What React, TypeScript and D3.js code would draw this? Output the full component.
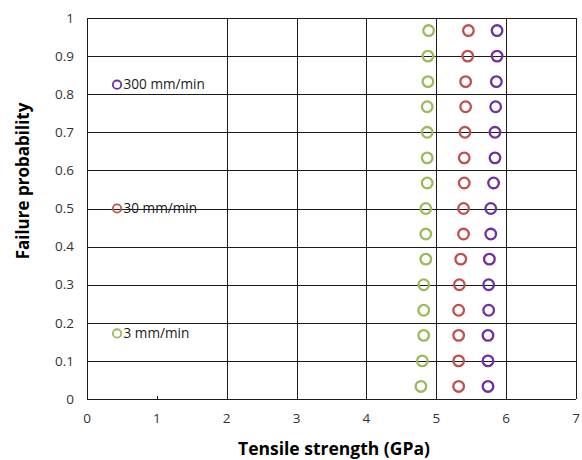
import React from "react";
import * as d3 from "d3";

const probabilities = [0.033, 0.1, 0.167, 0.233, 0.3, 0.367, 0.433, 0.5, 0.567, 0.633, 0.7, 0.767, 0.833, 0.9, 0.967];
const rate3 = [4.78, 4.8, 4.82, 4.82, 4.82, 4.85, 4.85, 4.85, 4.87, 4.87, 4.87, 4.87, 4.88, 4.88, 4.89];
const rate30 = [5.32, 5.32, 5.32, 5.32, 5.33, 5.35, 5.39, 5.39, 5.4, 5.4, 5.41, 5.42, 5.42, 5.45, 5.46];
const rate300 = [5.74, 5.74, 5.74, 5.75, 5.75, 5.76, 5.78, 5.78, 5.82, 5.84, 5.84, 5.85, 5.86, 5.87, 5.87];

const seriesNames = ["3 mm/min", "30 mm/min", "300 mm/min"];
const seriesColors = ["#9BBB59", "#C0504D", "#7030A0"];
const labelX = [0.43, 0.43, 0.43];
const labelY = [0.172, 0.5, 0.825];

const xTicks = [0, 1, 2, 3, 4, 5, 6, 7];
const xGrid = [2, 3, 4, 5, 6, 7];
const yTicks = [0, 0.1, 0.2, 0.3, 0.4, 0.5, 0.6, 0.7, 0.8, 0.9, 1];

const W = 582;
const H = 460;
const font = "'Open Sans', 'Noto Sans', sans-serif";

export default function App() {
  const x = d3.scaleLinear().domain([0, 7]).range([87, 576]);
  const y = d3.scaleLinear().domain([0, 1]).range([399, 18]);
  const series = [rate3, rate30, rate300];
  const fmt = (v: number) => (v === 0 || v === 1 ? String(v) : d3.format(".1f")(v));
  const crisp = (v: number) => Math.round(v) + 0.5;

  return (
    <svg width={W} height={H} style={{ position: "absolute", left: 0, top: 0, background: "#fff" }}>
      {/* horizontal grid */}
      {yTicks.map((t) => (
        <line key={"h" + t} x1={x(0)} x2={x(7)} y1={crisp(y(t))} y2={crisp(y(t))} stroke="#1a1a1a" strokeWidth={1} />
      ))}
      {/* vertical grid */}
      {xGrid.map((t) => (
        <line key={"v" + t} x1={crisp(x(t))} x2={crisp(x(t))} y1={y(1)} y2={y(0)} stroke="#1a1a1a" strokeWidth={1} />
      ))}
      {/* y axis line */}
      <line x1={crisp(x(0))} x2={crisp(x(0))} y1={y(1)} y2={y(0)} stroke="#1a1a1a" strokeWidth={1} />
      {/* minor tick at x=1 */}
      <line x1={crisp(x(1))} x2={crisp(x(1))} y1={y(0) - 3} y2={y(0)} stroke="#1a1a1a" strokeWidth={1} />

      {/* y tick labels */}
      {yTicks.map((t) => (
        <text key={"yl" + t} x={74} y={y(t)} dy="0.35em" textAnchor="end" fontFamily={font} fontSize={13.5} fill="#333">
          {fmt(t)}
        </text>
      ))}
      {/* x tick labels */}
      {xTicks.map((t) => (
        <text key={"xl" + t} x={x(t)} y={423} textAnchor="middle" fontFamily={font} fontSize={13.5} fill="#333">
          {t}
        </text>
      ))}

      {/* data */}
      {series.map((s, si) =>
        s.map((v, i) => (
          <circle
            key={si + "-" + i}
            cx={x(v)}
            cy={y(probabilities[i])}
            r={5.3}
            fill="none"
            stroke={seriesColors[si]}
            strokeWidth={2.3}
          />
        ))
      )}

      {/* labels */}
      {seriesNames.map((n, i) => (
        <g key={n}>
          <circle cx={x(labelX[i])} cy={y(labelY[i])} r={4.2} fill="none" stroke={seriesColors[i]} strokeWidth={1.8} />
          <text x={x(labelX[i]) + 6.5} y={y(labelY[i])} dy="0.35em" fontFamily={font} fontSize={13.6} fill="#1a1a1a">
            {n}
          </text>
        </g>
      ))}

      {/* axis titles */}
      <text x={334} y={455} textAnchor="middle" fontFamily={font} fontSize={17.5} fontWeight="bold" fill="#000">
        Tensile strength (GPa)
      </text>
      <text
        transform={`translate(29, 181) rotate(-90)`}
        textAnchor="middle"
        fontFamily={font}
        fontSize={17}
        fontWeight="bold"
        fill="#000"
      >
        Failure probability
      </text>
    </svg>
  );
}
